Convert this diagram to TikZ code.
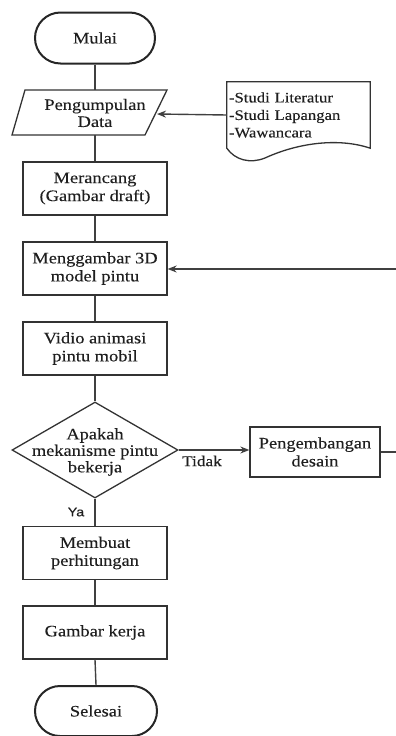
\documentclass[tikz,border=0pt]{standalone}
\usepackage{fontspec}
\setmainfont{Liberation Serif}[FakeStretch=1.15,FakeBold=0.2]
\newfontfamily\yafont{Liberation Sans}[FakeStretch=1.15,FakeBold=0.2]
\usetikzlibrary{shapes.geometric,shapes.misc,arrows.meta}
\begin{document}
\begin{tikzpicture}[x=1pt,y=-1pt,
  every node/.style={text=black!88},
  box/.style={draw=black!80,line width=1.3pt,rectangle,minimum width=144,minimum height=53,inner sep=0,align=center,font=\fontsize{16}{18}\selectfont},
  term/.style={draw=black!85,line width=2pt,rounded rectangle,minimum width=120,minimum height=51,inner sep=0,font=\fontsize{16}{18}\selectfont},
  conn/.style={draw=black!75,line width=1.4pt},
  arr/.style={conn,-{Stealth[length=9pt,width=7pt]}},
  lbl/.style={font=\fontsize{15}{17}\selectfont,inner sep=0}
]
\useasboundingbox (0,0) rectangle (396,736);
% nodes
\node[term] (mulai) at (95,38) {Mulai};
\coordinate (p1) at (25,90);
\coordinate (p2) at (167,90);
\coordinate (p3) at (145,135);
\coordinate (p4) at (12,135);
\coordinate (pdr) at (157,114);
\draw[draw=black!80,line width=1.3pt] (p1) -- (p2) -- (p3) -- (p4) -- cycle;
\node[align=center,inner sep=0,font=\fontsize{16}{17}\selectfont] (pd) at (95,113) {Pengumpulan\\Data};
\node[rectangle,minimum width=143,minimum height=66,inner sep=0] (doc) at (298.5,115) {};
\node[align=left,text width=141,inner sep=0,font=\fontsize{14.5}{17.5}\selectfont] (doct) at (299.5,115) {-Studi Literatur\\-Studi Lapangan\\-Wawancara};
\draw[draw=black!80,line width=1.3pt] (doc.south west) -- (doc.north west) -- (doc.north east) -- (doc.south east)
  .. controls (340,138) and (300,142) .. (265,158) .. controls (250,164) and (235,160) .. (doc.south west) -- cycle;
\node[box] (rancang) at (95,188.5) {Merancang\\(Gambar draft)};
\node[box] (g3d) at (95,268.5) {Menggambar 3D\\model pintu};
\node[box] (vidio) at (95,348.5) {Vidio animasi\\pintu mobil};
\node[draw=black!80,line width=1.3pt,diamond,minimum width=166,minimum height=96,inner sep=0.5pt] (dia) at (95,450) {};
\node[align=center,inner sep=0,font=\fontsize{16}{16.5}\selectfont] (diat) at (95,452) {Apakah\\mekanisme pintu\\bekerja};
\node[box,minimum width=130,minimum height=50] (kembang) at (315,452) {Pengembangan\\desain};
\node[box] (membuat) at (95,553) {Membuat\\perhitungan};
\node[box] (kerja) at (95,632.5) {Gambar kerja};
\node[term,minimum width=122,minimum height=50] (selesai) at (96,711) {Selesai};
\node[lbl] (tidak) at (202,461) {Tidak};
\node[inner sep=0,font=\yafont\fontsize{12.5}{14}\selectfont] (ya) at (76,512) {Ya};
\coordinate (r1) at (396,452);
\coordinate (r2) at (396,269);
% connectors
\draw[conn] (mulai.south) -- (mulai.south |- p1);
\draw[conn] (rancang.north |- p4) -- (rancang.north);
\draw[arr] (doc.west) -- (pdr);
\draw[conn] (rancang.south) -- (g3d.north);
\draw[arr] (r2) -- (g3d.east |- r2);
\draw[conn] (g3d.south) -- (vidio.north);
\draw[conn] (vidio.south) -- (dia.north);
\draw[arr] (dia.east) -- (dia.east -| kembang.west);
\draw[conn] (kembang.east) -- (r1);
\draw[conn] (dia.south) -- (membuat.north);
\draw[conn] (membuat.south) -- (kerja.north);
\draw[conn] (kerja.south) -- (selesai.north);
\end{tikzpicture}
\end{document}
